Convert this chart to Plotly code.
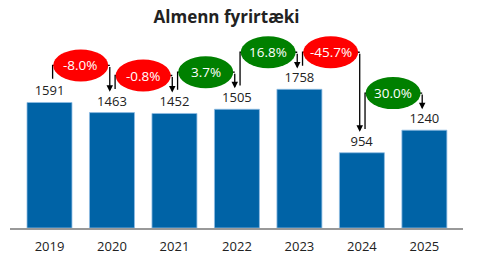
import plotly.graph_objects as go

years = ["2019", "2020", "2021", "2022", "2023", "2024", "2025"]
values = [1591, 1463, 1452, 1505, 1758, 954, 1240]

BAR_COLOR = "#0063A6"
UP_COLOR = "#008000"
DOWN_COLOR = "#FF0000"
FONT = "Open Sans, Noto Sans, DejaVu Sans, sans-serif"

YMAX = 2510
LEVEL_OFF = 470   # bubble line height above the taller bar (data units)
START_OFF = 300   # where the left leg begins above the source bar
TIP_OFF = 265     # arrow tip above the target bar
DX_L = 0.05
DX_R = -0.035

x = list(range(len(years)))
fig = go.Figure()
fig.add_trace(go.Bar(
    x=x, y=values, width=0.72,
    marker=dict(color=BAR_COLOR, line=dict(color="#8fbde3", width=0.8)),
    text=[str(v) for v in values], textposition="outside",
    textfont=dict(size=13, color="#222", family=FONT),
    cliponaxis=False, hoverinfo="skip", showlegend=False,
))

shapes = []
annotations = []
for i in range(len(values) - 1):
    a, b = values[i], values[i + 1]
    pct = (b - a) / a * 100
    level = max(a, b) + LEVEL_OFF
    xl = i + DX_L
    xr = i + 1 + DX_R
    fig.add_trace(go.Scatter(
        x=[xl, xl, xr], y=[a + START_OFF, level, level], mode="lines",
        line=dict(color="black", width=1.3), hoverinfo="skip", showlegend=False,
    ))
    annotations.append(dict(
        x=xr, y=b + TIP_OFF, ax=xr, ay=level, xref="x", yref="y",
        axref="x", ayref="y", text="", showarrow=True,
        arrowhead=2, arrowsize=1, arrowwidth=1.3, arrowcolor="black",
    ))
    shapes.append(dict(
        type="circle", xref="x", yref="y", xsizemode="pixel", ysizemode="pixel",
        xanchor=i + 0.5, yanchor=level, x0=-27.5, x1=27.5, y0=-16, y1=16,
        fillcolor=UP_COLOR if pct >= 0 else DOWN_COLOR, line=dict(width=0),
        layer="above",
    ))
    annotations.append(dict(
        x=i + 0.5, y=level, xref="x", yref="y", text=f"{pct:.1f}%",
        showarrow=False, font=dict(size=13.5, color="white", family=FONT),
    ))

fig.update_layout(
    width=479, height=255,
    margin=dict(l=10, r=16, t=30, b=27, autoexpand=False),
    paper_bgcolor="white", plot_bgcolor="white",
    font=dict(family=FONT, color="#222"),
    title=dict(text="<b>Almenn fyrirtæki</b>", x=0.478, xref="paper",
               y=1 - 17 / 255, yref="container", yanchor="middle", xanchor="center",
               font=dict(size=17, color="#222", family=FONT)),
    xaxis=dict(range=[-0.632, 6.618], tickvals=x, ticktext=years,
               showline=True, linecolor="#999", linewidth=1.5,
               showgrid=False, zeroline=False, ticks="", automargin=False,
               tickfont=dict(size=13, color="#222", family=FONT),
               ticklabelstandoff=6),
    yaxis=dict(visible=False, range=[0, YMAX], automargin=False),
    shapes=shapes, annotations=annotations,
    bargap=0.28,
)

fig.write_html("out.html")
